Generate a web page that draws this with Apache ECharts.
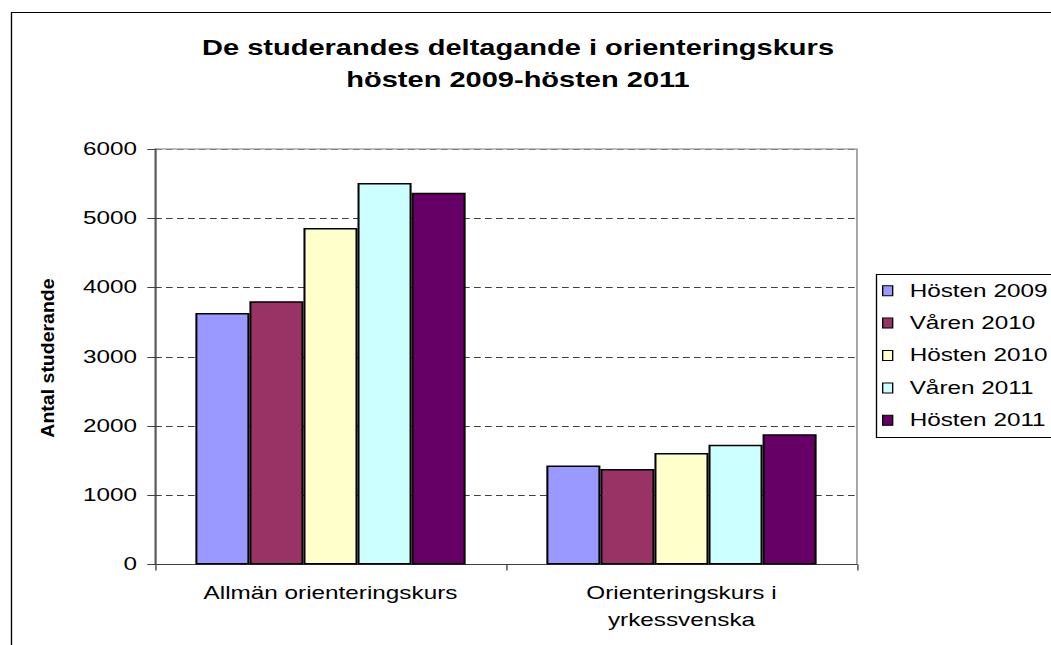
<!DOCTYPE html>
<html>
<head>
<meta charset="utf-8">
<script src="https://cdn.jsdelivr.net/npm/echarts@6/dist/echarts.min.js"></script>
<style>
  html, body { margin: 0; padding: 0; background: #fff; overflow: hidden; }
  #c { width: 778.5px; height: 645px; transform: scaleX(1.35); transform-origin: 0 0; }
</style>
</head>
<body>
<div id="c"></div>
<script>
// ---- data ----
var categories = ['Allmän orienteringskurs', 'Orienteringskurs i\nyrkessvenska'];
var seriesNames = ['Hösten 2009', 'Våren 2010', 'Hösten 2010', 'Våren 2011', 'Hösten 2011'];
var hosten2009 = [3630, 1430];
var varen2010 = [3800, 1380];
var hosten2010 = [4860, 1610];
var varen2011 = [5510, 1730];
var hosten2011 = [5370, 1880];
var yMin = 0, yMax = 6000, yInterval = 1000;

// ---- styling ----
var S = 1.35; // horizontal stretch of the page
function px(x) { return x / S; }
var colors = ['#9999FF', '#993366', '#FFFFCC', '#CCFFFF', '#660066'];
var FONT = "'Liberation Sans', Arial, sans-serif";
var values = [hosten2009, varen2010, hosten2010, varen2011, hosten2011];

var chart = echarts.init(document.getElementById('c'), null, { renderer: 'svg', width: 778.5, height: 645 });

var series = seriesNames.map(function (name, i) {
  return {
    name: name,
    type: 'bar',
    data: values[i],
    barGap: '0%',
    barCategoryGap: '23%',
    itemStyle: { color: colors[i], borderColor: '#000', borderWidth: 1.5 },
    emphasis: { disabled: true }
  };
});

chart.setOption({
  animation: false,
  textStyle: { fontFamily: FONT },
  title: {
    text: 'De studerandes deltagande i orienteringskurs\nhösten 2009-hösten 2011',
    left: px(518),
    top: 31,
    textAlign: 'center',
    padding: 0,
    textStyle: { fontFamily: FONT, fontSize: 21.5, fontWeight: 'bold', color: '#000', lineHeight: 32, align: 'center' }
  },
  legend: {
    orient: 'vertical',
    left: px(882),
    top: 281.7,
    padding: 0,
    itemWidth: px(10),
    itemHeight: 10,
    itemGap: 14.4,
    icon: 'rect',
    selectedMode: false,
    data: seriesNames,
    itemStyle: { borderColor: '#000', borderWidth: 1 },
    textStyle: { fontFamily: FONT, fontSize: 18, color: '#000', lineHeight: 18, padding: [0, 0, 0, px(909 - 892) - 5] }
  },
  grid: {
    left: px(155),
    right: px(1051 - 857),
    top: 149,
    bottom: 645 - 564.5,
    show: true,
    borderColor: '#808080',
    borderWidth: 1,
    backgroundColor: 'transparent'
  },
  xAxis: {
    type: 'category',
    data: categories,
    axisLine: { lineStyle: { color: '#404040', width: 1 } },
    axisTick: { show: true, length: 6, lineStyle: { color: '#404040' } },
    axisLabel: { fontFamily: FONT, fontSize: 18, color: '#000', margin: 15, lineHeight: 27, interval: 0 },
    splitLine: { show: false }
  },
  yAxis: {
    type: 'value',
    min: yMin,
    max: yMax,
    interval: yInterval,
    axisLine: { show: true, lineStyle: { color: '#404040', width: 1 } },
    axisTick: { show: true, length: px(7.7), lineStyle: { color: '#404040' } },
    axisLabel: {
      fontFamily: FONT, fontSize: 18, color: '#000', margin: px(18),
      formatter: function (v) { return String(v); }
    },
    splitLine: {
      show: true,
      lineStyle: {
        color: ['#404040', '#404040', '#404040', '#404040', '#404040', '#404040', '#808080'],
        type: [px(6.7), px(4.3)],
        width: 1
      }
    }
  },
  graphic: [
    {
      type: 'rect',
      silent: true,
      shape: { x: px(11.5), y: 12.5, width: 2000, height: 2000 },
      style: { fill: 'none', stroke: '#000', lineWidth: 1 },
      z: -10
    },
    {
      type: 'rect',
      silent: true,
      shape: { x: px(876.5), y: 274.5, width: 500, height: 163 },
      style: { fill: 'none', stroke: '#000', lineWidth: 1 }
    },
    {
      type: 'text',
      silent: true,
      x: px(48),
      y: 358,
      rotation: Math.PI / 2,
      scaleY: 0.7,
      style: {
        text: 'Antal studerande',
        fontFamily: FONT,
        fontSize: 19.5,
        fontWeight: 'bold',
        fill: '#000',
        align: 'center',
        verticalAlign: 'middle',
        textAlign: 'center',
        textVerticalAlign: 'middle'
      }
    }
  ],
  series: series
});
</script>
</body>
</html>
